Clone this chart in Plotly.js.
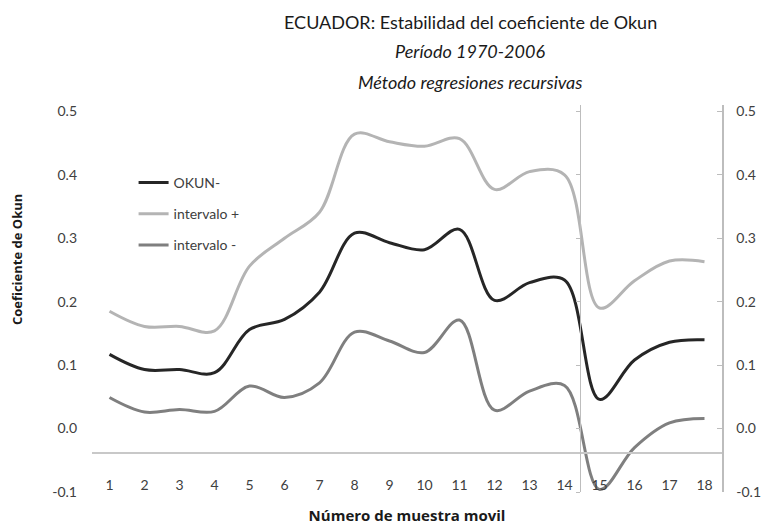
<!DOCTYPE html>
<html>
<head>
<meta charset="utf-8">
<script src="https://cdn.plot.ly/plotly-3.0.1.min.js"></script>
<style>
  html, body { margin: 0; padding: 0; background: #fff; }
  #chart { width: 767px; height: 525px; }
</style>
</head>
<body>
<div id="chart"></div>
<script>
const muestras = [1, 2, 3, 4, 5, 6, 7, 8, 9, 10, 11, 12, 13, 14, 15, 16, 17, 18];
const okun = [0.117, 0.093, 0.093, 0.088, 0.156, 0.172, 0.215, 0.308, 0.293, 0.282, 0.314, 0.202, 0.230, 0.234, 0.046, 0.108, 0.136, 0.140];
const intervaloMas = [0.185, 0.161, 0.161, 0.154, 0.256, 0.300, 0.341, 0.464, 0.452, 0.445, 0.457, 0.377, 0.405, 0.400, 0.190, 0.233, 0.264, 0.263];
const intervaloMenos = [0.049, 0.026, 0.030, 0.027, 0.067, 0.049, 0.072, 0.152, 0.138, 0.120, 0.171, 0.029, 0.059, 0.068, -0.096, -0.030, 0.009, 0.016];
const yTicks = [-0.1, 0, 0.1, 0.2, 0.3, 0.4, 0.5];
const yTickText = ["-0.1", "0.0", "0.1", "0.2", "0.3", "0.4", "0.5"];

const font = "Lato, 'Open Sans', sans-serif";
const boldFont = "'Open Sans', Lato, sans-serif";
const yRange = [-0.1, 0.51];

// each series sits on its own (identically scaled) y axis so that the
// right-hand axis and the middle axis at 14.4 are both drawn
function serie(name, values, color, axis) {
    return {
        x: muestras,
        y: values,
        name: name,
        legendgroup: name,
        yaxis: axis,
        type: "scatter",
        mode: "lines",
        line: { color: color, width: 3, shape: "spline", smoothing: 1 },
        hoverinfo: "skip",
    };
}

const data = [
    serie("OKUN-", okun, "#262626", "y"),
    serie("intervalo +", intervaloMas, "#b4b4b4", "y2"),
    serie("intervalo -", intervaloMenos, "#7f7f7f", "y3"),
];

const layout = {
    width: 767,
    height: 525,
    margin: { t: 105, r: 45, b: 33, l: 92 },
    paper_bgcolor: "#fff",
    plot_bgcolor: "rgba(0,0,0,0)",
    font: { family: font, color: "#404040", size: 14 },
    showlegend: true,
    legend: {
        x: 0.066, y: 0.84, xanchor: "left", yanchor: "top",
        bgcolor: "rgba(0,0,0,0)",
        font: { size: 14, color: "#404040" },
        tracegroupgap: 10,
        traceorder: "grouped",
    },
    xaxis: {
        range: [0.5, 18.5],
        tickvals: muestras,
        ticks: "",
        showgrid: false,
        zeroline: false,
        showline: true,
        linecolor: "#c8c8c8",
        linewidth: 1.5,
        anchor: "free",
        position: 0.103,
        ticklabelstandoff: 20,
        tickfont: { size: 14, color: "#404040" },
        title: {
            text: "<b>Número de muestra movil</b>",
            font: { family: boldFont, size: 15, color: "#1a1a1a" },
            standoff: 20,
        },
        automargin: false,
    },
    yaxis: {
        range: yRange,
        tickvals: yTicks,
        ticktext: yTickText,
        ticks: "",
        showgrid: false,
        zeroline: false,
        showline: false,
        ticklabelstandoff: 14,
        tickfont: { size: 14, color: "#404040" },
        automargin: false,
    },
    yaxis2: {
        range: yRange,
        overlaying: "y",
        side: "right",
        anchor: "x",
        tickvals: yTicks,
        ticktext: yTickText,
        ticks: "inside",
        ticklen: 5,
        tickcolor: "#bdbdbd",
        showgrid: false,
        zeroline: false,
        showline: true,
        linecolor: "#bdbdbd",
        linewidth: 1.5,
        ticklabelstandoff: 10,
        tickfont: { size: 14, color: "#404040" },
        automargin: false,
    },
    yaxis3: {
        range: yRange,
        overlaying: "y",
        side: "left",
        anchor: "free",
        position: 0.7745,
        tickvals: yTicks,
        ticks: "outside",
        ticklen: 4,
        tickcolor: "#bdbdbd",
        showticklabels: false,
        showgrid: false,
        zeroline: false,
        showline: true,
        linecolor: "#bdbdbd",
        linewidth: 1.5,
        automargin: false,
    },
    annotations: [
        {
            text: "ECUADOR: Estabilidad del coeficiente de Okun",
            xref: "paper", yref: "paper", x: 0.6, y: 1.2145,
            xanchor: "center", yanchor: "middle",
            showarrow: false, font: { size: 18, color: "#1a1a1a" },
        },
        {
            text: "<i>Período 1970-2006</i>",
            xref: "paper", yref: "paper", x: 0.6, y: 1.1395,
            xanchor: "center", yanchor: "middle",
            showarrow: false, font: { size: 18, color: "#1a1a1a" },
        },
        {
            text: "<i>Método regresiones recursivas</i>",
            xref: "paper", yref: "paper", x: 0.6, y: 1.0594,
            xanchor: "center", yanchor: "middle",
            showarrow: false, font: { size: 18, color: "#1a1a1a" },
        },
        {
            text: "<b>Coeficiente de Okun</b>",
            xref: "paper", yref: "paper", x: -0.118, y: 0.601,
            xanchor: "center", yanchor: "middle", textangle: -90,
            showarrow: false, font: { family: boldFont, size: 13, color: "#1a1a1a" },
        },
    ],
};

Plotly.newPlot("chart", data, layout, { displayModeBar: false, staticPlot: true });
</script>
</body>
</html>
